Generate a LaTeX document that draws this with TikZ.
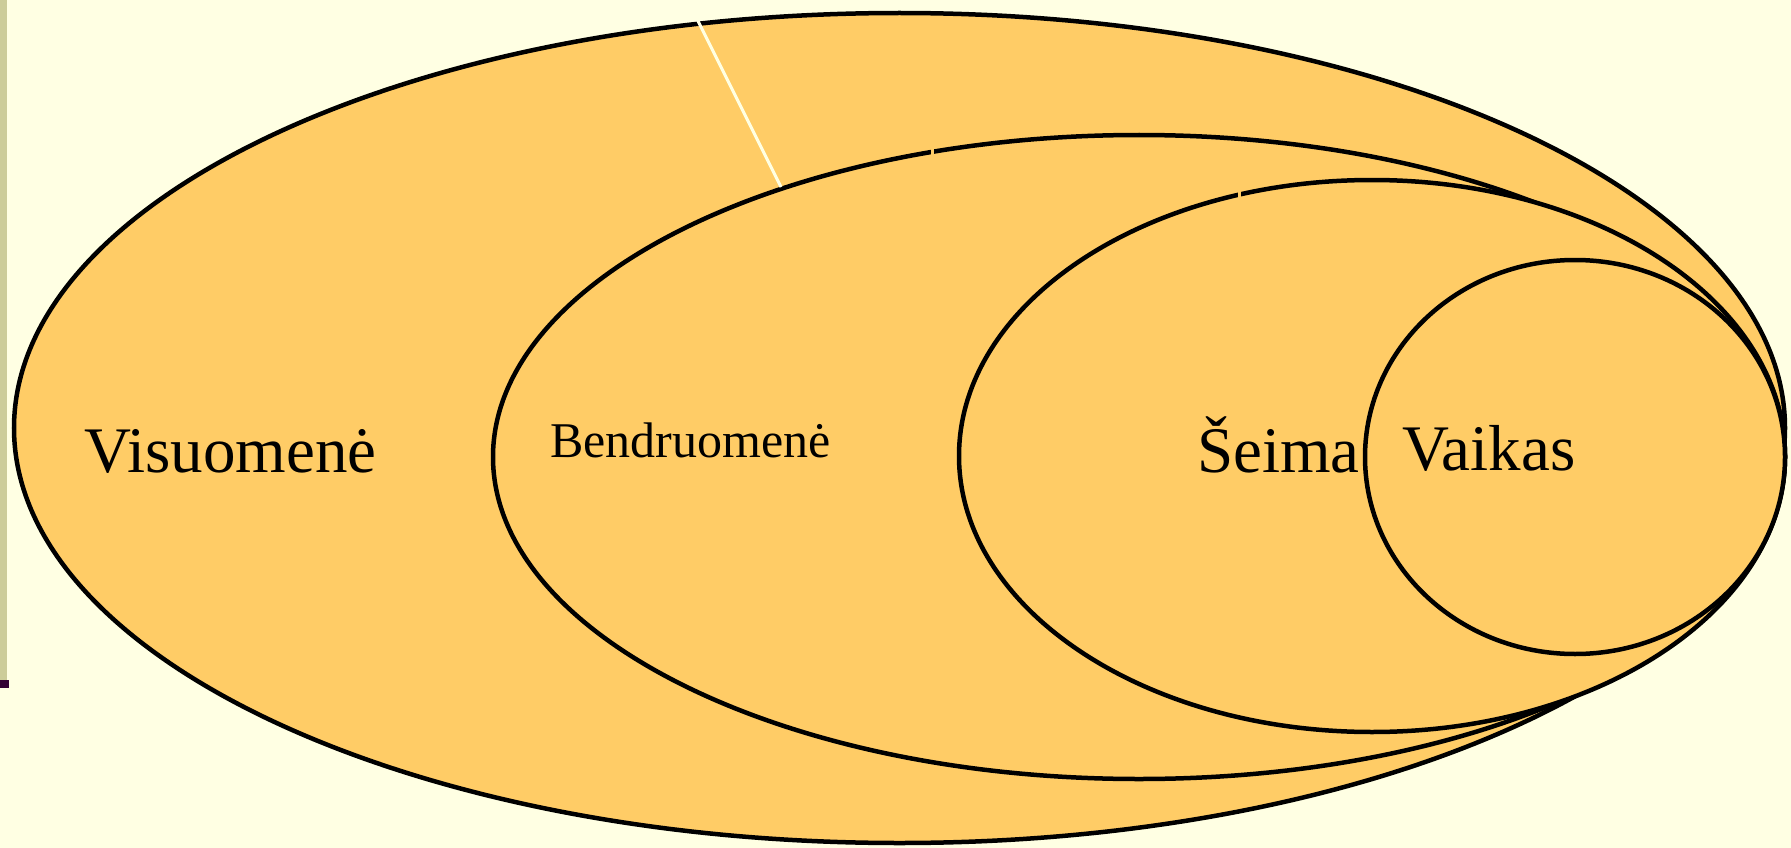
\documentclass[tikz,border=0pt]{standalone}
\usepackage{fontspec}
\setmainfont{Liberation Serif}
\usetikzlibrary{shapes.geometric}
\definecolor{bgc}{HTML}{FFFFE3}
\definecolor{fillc}{HTML}{FFCC66}
\definecolor{barc}{HTML}{CCCC99}
\definecolor{markc}{HTML}{330033}
\tikzset{
  ring/.style={ellipse, draw=black, fill=fillc, line width=4.5pt, inner sep=0pt},
  lbl/.style={anchor=base west, inner sep=0pt, font=\fontsize{65}{78}\selectfont},
  lblsmall/.style={anchor=base west, inner sep=0pt, font=\fontsize{50}{60}\selectfont},
}
\begin{document}
\begin{tikzpicture}[x=1pt,y=-1pt]
\useasboundingbox (0,0) rectangle (1791,848);
\fill[bgc] (0,0) rectangle (1791,848);
\fill[barc] (0,0) rectangle (7,680);
\fill[markc] (0,680) rectangle (9,688);
\node[ring, minimum width=1771pt, minimum height=830pt] (e1) at (899.5,428) {};
\node[ring, minimum width=1292pt, minimum height=644pt] (e2) at (1139,457) {};
\node[ring, minimum width=826pt, minimum height=552pt] (e3) at (1372,456) {};
\node[ring, minimum width=420pt, minimum height=394pt] (e4) at (1575,457) {};
\coordinate (g1) at (697,19);
\coordinate (g1b) at (781,187);
\draw[bgc, line width=3pt] (g1) -- (g1b);
\coordinate (g2a) at (932,148);
\coordinate (g2b) at (932,158);
\draw[fillc, line width=3pt] (g2a) -- (g2b);
\coordinate (g3a) at (1239,191);
\coordinate (g3b) at (1239,201);
\draw[fillc, line width=3pt] (g3a) -- (g3b);
\node[lbl] (t1) at (84,472) {Visuomenė};
\node[lblsmall] (t2) at (550,457) {Bendruomenė};
\node[lbl] (t3) at (1197,472) {Šeima};
\node[lbl] (t4) at (1402,470) {Vaikas};
\end{tikzpicture}
\end{document}
